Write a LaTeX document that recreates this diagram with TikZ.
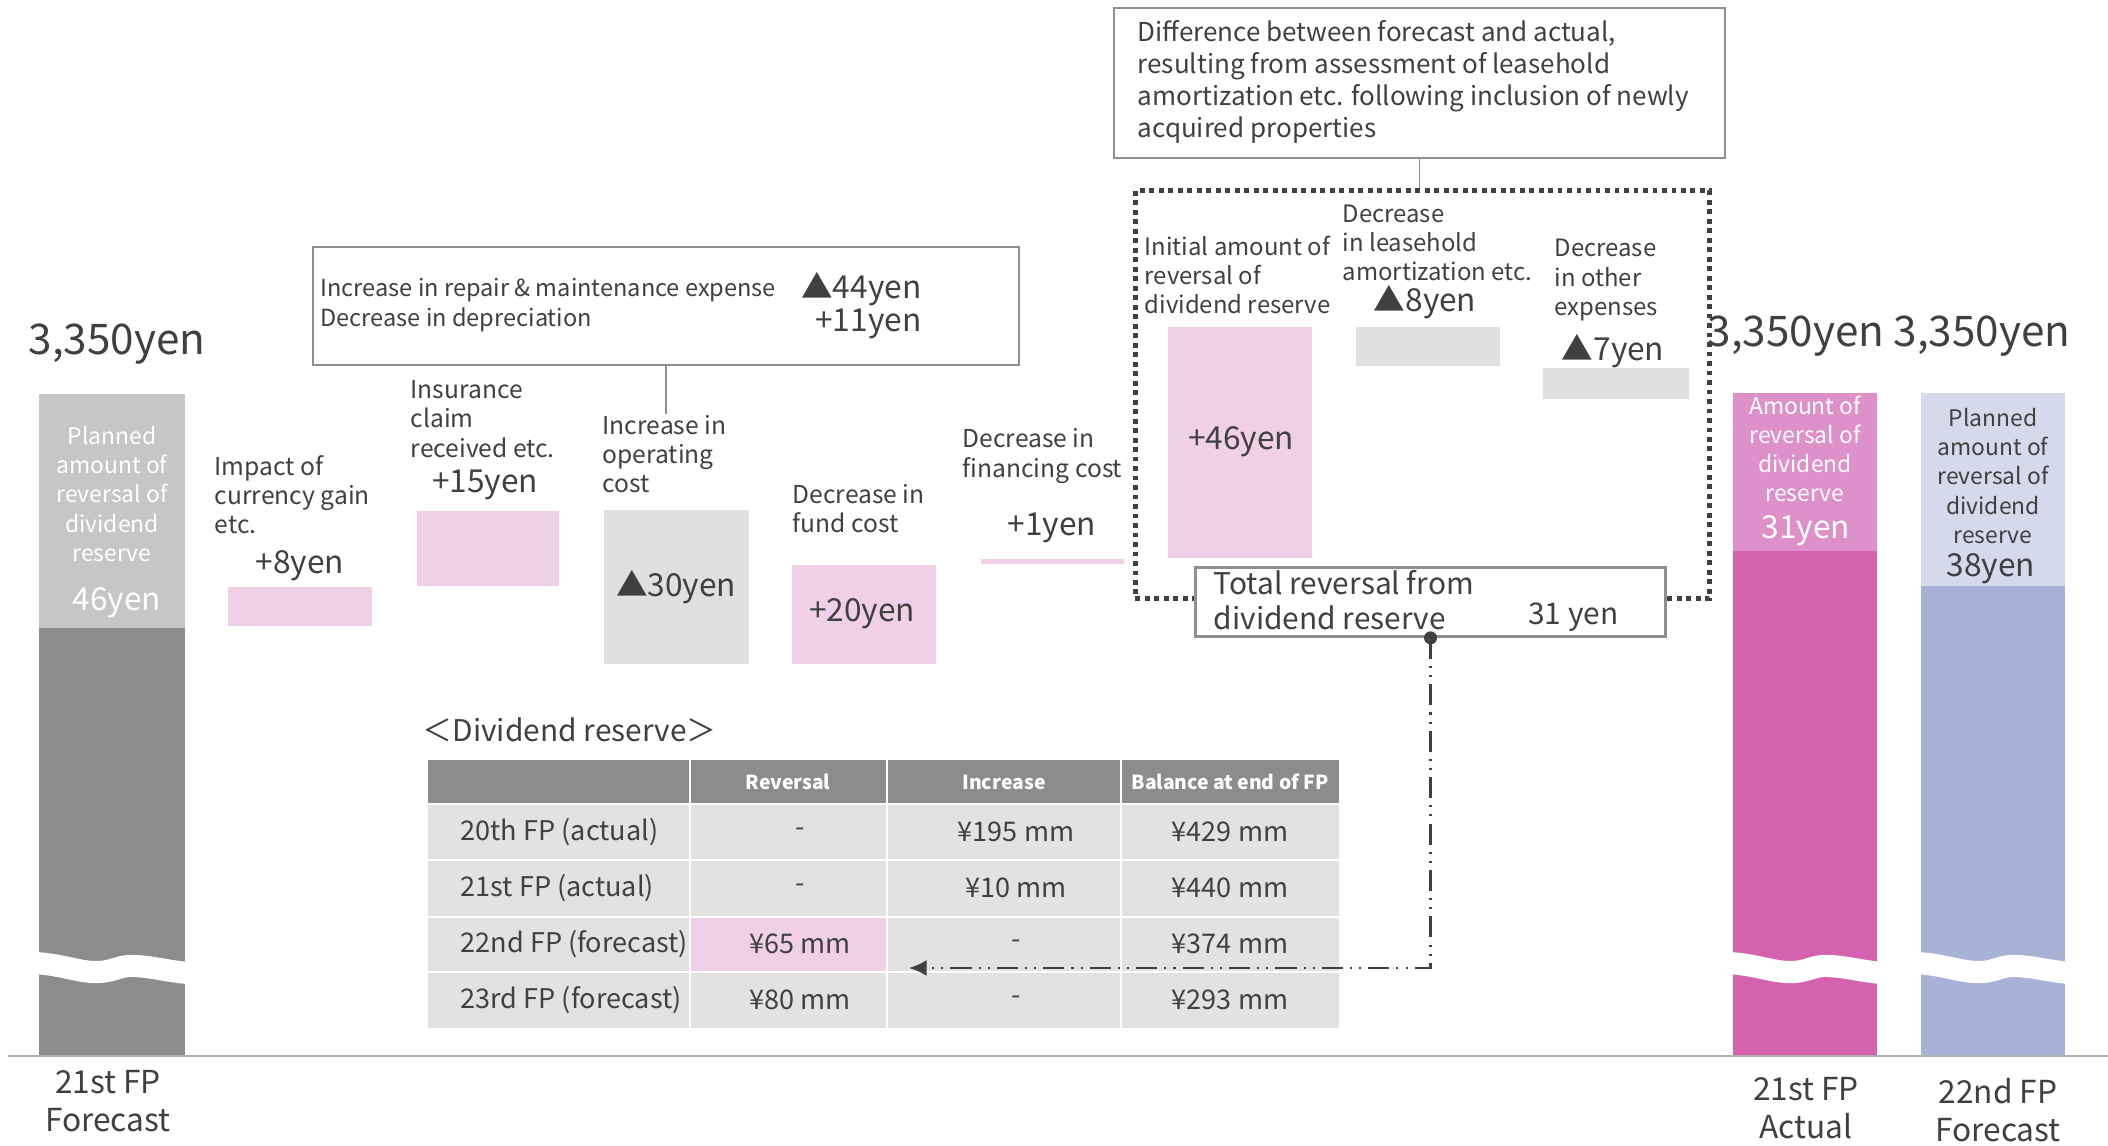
\documentclass[tikz,border=0pt]{standalone}
\usepackage{fontspec}
\setmainfont{Noto Sans CJK JP}
\usetikzlibrary{arrows.meta}

\definecolor{txt}{HTML}{404040}
\definecolor{frame}{HTML}{8F8F8F}
\definecolor{axis}{HTML}{B0B0B0}
\definecolor{pinkbox}{HTML}{F0D0E7}
\definecolor{graybox}{HTML}{E0E0E0}
\definecolor{fcbarlt}{HTML}{C6C6C6}
\definecolor{fcbardk}{HTML}{8C8C8C}
\definecolor{actlt}{HTML}{DE90C8}
\definecolor{actdk}{HTML}{D462AF}
\definecolor{nextlt}{HTML}{D5D9EC}
\definecolor{nextdk}{HTML}{A8B1D6}
\definecolor{cell}{HTML}{E2E2E2}

\tikzset{
  lbl/.style={font=\fontsize{7}{8.3}\selectfont, align=left, anchor=west, inner sep=0pt, text=txt},
  amt/.style={font=\fontsize{9}{10}\selectfont, inner sep=0pt, text=txt},
  big/.style={font=\fontsize{12}{14}\selectfont, inner sep=0pt, text=txt},
  inbar/.style={font=\fontsize{6.5}{8.3}\selectfont, align=center, inner sep=0pt},
  period/.style={font=\fontsize{9}{10.8}\selectfont, align=center, inner sep=0pt, text=txt},
  note/.style={draw=frame, line width=0.5pt, anchor=north west, inner sep=0pt},
  grp/.style={draw=txt, line width=1.4pt, dash pattern=on 1.4pt off 1.3pt, anchor=north west, inner sep=0pt},
  hd/.style={font=\bfseries\fontsize{5.5}{6}\selectfont, text=white, inner sep=0pt},
  cellt/.style={font=\fontsize{7.7}{8}\selectfont, text=txt, inner sep=0pt},
  brk/.style={white, line width=6.3pt},
  link/.style={txt, line width=0.6pt, dash pattern=on 6pt off 2pt on 0.6pt off 2pt on 0.6pt off 2pt, -{Latex[length=5pt,width=4.5pt]}},
}

\begin{document}
\begin{tikzpicture}[x=0.01cm, y=-0.01cm]
\useasboundingbox (0,0) rectangle (2108,1146);

% bars at both ends
\fill[fcbarlt] (39,394) rectangle (185,628);
\fill[fcbardk] (39,628) rectangle (185,1056);
\fill[actlt] (1733,393) rectangle (1877,551);
\fill[actdk] (1733,551) rectangle (1877,1056);
\fill[nextlt] (1921,393) rectangle (2065,586);
\fill[nextdk] (1921,586) rectangle (2065,1056);
\foreach \bx in {39,1733,1921}
  \draw[brk] (\bx-4,963) .. controls (\bx+26,965) and (\bx+41,973) .. (\bx+61,972) .. controls (\bx+76,971) and (\bx+81,965) .. (\bx+96,966) .. controls (\bx+116,967) and (\bx+131,972) .. (\bx+151,973);
\draw[axis, line width=0.8pt] (8,1056) -- (2108,1056);

\node[big] (tot1) at (117,344) {3,350yen};
\node[inbar, text=white] (plan1) at (112,494) {Planned\\amount of\\reversal of\\dividend\\reserve};
\node[amt, text=white] (plan1v) at (117,603) {46yen};
\node[period] (p1) at (108,1101) {21st FP\\Forecast};

\node[big] (tot2) at (1796,336) {3,350yen};
\node[inbar, text=white] (act) at (1805,449) {Amount of\\reversal of\\dividend\\reserve};
\node[amt, text=white] (actv) at (1806,531) {31yen};
\node[period] (p2) at (1806,1108) {21st FP\\Actual};

\node[big] (tot3) at (1982,336) {3,350yen};
\node[inbar, text=txt] (plan2) at (1993,476) {Planned\\amount of\\reversal of\\dividend\\reserve};
\node[amt] (plan2v) at (1991,569) {38yen};
\node[period] (p3) at (1998,1110) {22nd FP\\Forecast};

% steps
\node[lbl] (fxl) at (214,495) {Impact of\\currency gain\\etc.};
\node[amt] (fxv) at (300,566) {+8yen};
\fill[pinkbox] (228,587) rectangle (372,626);

\node[lbl] (insl) at (410,419) {Insurance\\claim\\received etc.};
\node[amt] (insv) at (485,485) {+15yen};
\fill[pinkbox] (417,511) rectangle (559,586);

\node[lbl] (opl) at (602,454) {Increase in\\operating\\cost};
\fill[graybox] (604,510) rectangle (749,664);
\node[amt] (opv) at (676,587) {▲30yen};

\node[lbl] (fundl) at (792,509) {Decrease in\\fund cost};
\fill[pinkbox] (792,565) rectangle (936,664);
\node[amt] (fundv) at (862,614) {+20yen};

\node[lbl] (finl) at (962,456) {Decrease in\\financing cost};
\node[amt] (finv) at (1052,528) {+1yen};
\fill[pinkbox] (981,559) rectangle (1124,564);

\node[note, minimum width=7.06cm, minimum height=1.18cm] (rbox) at (312,246) {};
\node[lbl, font=\fontsize{6.7}{8.5}\selectfont] (rboxl) at (320,305) {Increase in repair \& maintenance expense\\Decrease in depreciation};
\node[amt, anchor=east] (rboxa) at (922,289) {▲44yen};
\node[amt, anchor=east] (rboxb) at (922,324) {+11yen};
\draw[frame, line width=0.5pt] (rbox.south) -- (rbox.south |- opl.north);

% leasehold group
\node[note, minimum width=6.11cm, minimum height=1.5cm] (tbox) at (1113,7) {};
\node[lbl, font=\fontsize{7.4}{9.1}\selectfont] (tboxl) at (1137,82)
  {Difference between forecast and actual,\\resulting from assessment of leasehold\\amortization etc. following inclusion of newly\\acquired properties};
\node[grp, minimum width=5.74cm, minimum height=4.08cm] (grpbox) at (1133,188) {};
\draw[frame, line width=0.5pt] (tbox.south) -- (tbox.south |- grpbox.north);

\node[lbl, font=\fontsize{6.8}{8.3}\selectfont] (inil) at (1144,275) {Initial amount of\\reversal of\\dividend reserve};
\fill[pinkbox] (1168,327) rectangle (1312,558);
\node[amt] (iniv) at (1241,442) {+46yen};

\node[lbl, font=\fontsize{6.8}{8.3}\selectfont] (lsl) at (1342,243) {Decrease\\in leasehold\\amortization etc.};
\node[amt] (lsv) at (1425,302) {▲8yen};
\fill[graybox] (1356,327) rectangle (1500,366);

\node[lbl, font=\fontsize{6.8}{8.3}\selectfont] (othl) at (1554,280) {Decrease\\in other\\expenses};
\node[amt] (othv) at (1613,351) {▲7yen};
\fill[graybox] (1543,368) rectangle (1689,399);

\node[note, fill=white, line width=0.8pt, minimum width=4.70cm, minimum height=0.69cm] (tot) at (1194,566) {};
\node[lbl, font=\fontsize{8.5}{10}\selectfont] (totl) at (1213,600) {Total reversal from\\dividend reserve};
\node[amt, font=\fontsize{8.5}{10}\selectfont, anchor=east] (totv) at (1619,617) {31 yen};

% dividend reserve table
\node[lbl, font=\fontsize{8.5}{10}\selectfont] (ttl) at (422,730) {＜Dividend reserve＞};
\fill[fcbardk] (428,760) rectangle (1339,804);
\fill[cell] (428,804) rectangle (1339,1028);
\fill[pinkbox] (690,917) rectangle (887,972);
\foreach \cx in {690,887,1121}
  \draw[white, line width=0.6pt] (\cx,760) -- (\cx,1028);
\foreach \ry in {804,860,917,972}
  \draw[white, line width=0.6pt] (428,\ry) -- (1339,\ry);
\node[hd] (hrev) at (788,782) {Reversal};
\node[hd] (hinc) at (1004,782) {Increase};
\node[hd] (hbal) at (1230,782) {Balance at end of FP};
\foreach \ry/\per/\rev/\inc/\bal in {832/20th FP (actual)/-/¥195 mm/¥429 mm,
    888/21st FP (actual)/-/¥10 mm/¥440 mm,
    944/22nd FP (forecast)/¥65 mm/-/¥374 mm,
    1000/23rd FP (forecast)/¥80 mm/-/¥293 mm}{
  \node[cellt, anchor=west] (per\ry) at (460,\ry) {\per};
  \node[cellt] (rev\ry) at (800,\ry) {\rev};
  \node[cellt] (inc\ry) at (1016,\ry) {\inc};
  \node[cellt] (bal\ry) at (1230,\ry) {\bal};
}

\fill[txt] (tot.south) circle[radius=0.065cm];
\coordinate (arrend) at (909,968);
\draw[link] (tot.south) |- (arrend);
\end{tikzpicture}
\end{document}
